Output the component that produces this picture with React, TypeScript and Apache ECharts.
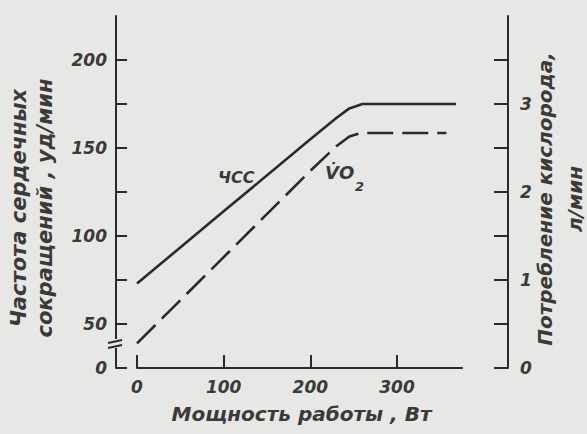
import React, { useEffect, useRef } from 'react';
import * as echarts from 'echarts';

// Power (W) and heart rate (beats/min)
const powerHR = [0, 100, 200, 230, 245, 260, 368];
const heartRate = [73, 114, 155, 167, 172.5, 175, 175];
// Power (W) and oxygen uptake (l/min)
const powerO2 = [0, 100, 200, 230, 245, 258, 357];
const oxygenUptake = [0.28, 1.26, 2.24, 2.52, 2.63, 2.67, 2.67];

const xTicks = [0, 100, 200, 300];
const hrTicks = [25, 50, 75, 100, 125, 150, 175, 200];
const hrLabels = [25, 50, 100, 150, 200];
const o2Ticks = [0, 0.5, 1, 1.5, 2, 2.5, 3, 3.5];
const o2Labels = [0, 1, 2, 3];

const BG = '#e7e7e5';
const INK = '#2a2a2a';
const TXT = '#3a3a3a';
const FONT = 'DejaVu Sans';

export default function App() {
  const ref = useRef<HTMLDivElement>(null);
  useEffect(() => {
    if (!ref.current) return;
    const chart = echarts.init(ref.current, undefined, { renderer: 'svg' });
    const txt = { fontFamily: FONT, fontStyle: 'italic' as const, fontWeight: 'bold' as const, color: TXT };
    chart.setOption({
      animation: false,
      backgroundColor: BG,
      grid: { left: 137, right: 125, top: 16, bottom: 66, containLabel: false, outerBoundsMode: 'none' },
      xAxis: {
        type: 'value', min: 0, max: 375, interval: 100,
        axisLine: { show: true, onZero: false, lineStyle: { color: INK, width: 2 } },
        axisTick: { show: true, inside: true, length: 13, customValues: xTicks, lineStyle: { color: INK, width: 2 } },
        axisLabel: { customValues: xTicks, margin: 10, fontSize: 17, ...txt },
        splitLine: { show: false },
        name: 'Мощность работы , Вт', nameLocation: 'middle', nameGap: 36,
        nameTextStyle: { fontSize: 20, padding: [0, 0, 0, 4], ...txt },
      },
      yAxis: [
        {
          type: 'value', position: 'left', offset: 21, min: 25, max: 225, interval: 25,
          axisLine: { show: true, onZero: false, lineStyle: { color: INK, width: 2 } },
          axisTick: { show: true, inside: true, length: 11, customValues: hrTicks, lineStyle: { color: INK, width: 2 } },
          axisLabel: { customValues: hrLabels, formatter: (v: number) => (v === 25 ? '0' : String(v)), margin: 9, fontSize: 17, ...txt },
          splitLine: { show: false },
          name: 'Частота сердечных\nсокращений , уд/мин', nameLocation: 'middle', nameGap: 58, nameRotate: 90,
          nameTextStyle: { fontSize: 21, lineHeight: 26, padding: [0, 32, 0, 0], ...txt },
        },
        {
          type: 'value', position: 'right', offset: 46, min: 0, max: 4, interval: 0.5,
          axisLine: { show: true, onZero: false, lineStyle: { color: INK, width: 2 } },
          axisTick: { show: true, inside: true, length: 14, customValues: o2Ticks, lineStyle: { color: INK, width: 2 } },
          axisLabel: { customValues: o2Labels, margin: 12, fontSize: 17, ...txt },
          splitLine: { show: false },
          name: 'Потребление кислорода,\nл/мин', nameLocation: 'middle', nameGap: 22, nameRotate: 90,
          nameMoveOverlap: false,
          nameTextStyle: { fontSize: 20, lineHeight: 30, padding: [0, 14, 0, 0], ...txt },
        },
      ],
      series: [
        {
          name: 'ЧСС', type: 'line', yAxisIndex: 0, symbol: 'none',
          data: powerHR.map((x, i) => [x, heartRate[i]]),
          lineStyle: { color: INK, width: 2.6 },
        },
        {
          name: 'VO2', type: 'line', yAxisIndex: 1, symbol: 'none',
          data: powerO2.map((x, i) => [x, oxygenUptake[i]]),
          lineStyle: { color: INK, width: 2.6, type: [26, 9] },
        },
      ],
      graphic: [
        { type: 'rect', shape: { x: 111, y: 339, width: 10, height: 9 }, style: { fill: BG }, z: 100 },
        { type: 'line', shape: { x1: 108, y1: 343, x2: 122, y2: 340 }, style: { stroke: INK, lineWidth: 2 }, z: 101 },
        { type: 'line', shape: { x1: 108, y1: 348, x2: 122, y2: 345 }, style: { stroke: INK, lineWidth: 2 }, z: 101 },
        { type: 'text', x: 218, y: 177, style: { text: 'ЧСС', fontSize: 16, fontFamily: FONT, fontStyle: 'italic', fontWeight: 'bold', fill: TXT, verticalAlign: 'middle' }, z: 102 },
        { type: 'text', x: 325, y: 172, style: { text: 'V\u0307O', fontSize: 18, fontFamily: FONT, fontStyle: 'italic', fontWeight: 'bold', fill: TXT, verticalAlign: 'middle' }, z: 102 },
        { type: 'text', x: 355, y: 186, style: { text: '2', fontSize: 13, fontFamily: FONT, fontStyle: 'italic', fontWeight: 'bold', fill: TXT, verticalAlign: 'middle' }, z: 102 },
      ],
    });
    return () => chart.dispose();
  }, []);
  return <div ref={ref} style={{ position: 'fixed', left: 0, top: 0, width: 587, height: 434, background: BG }} />;
}
